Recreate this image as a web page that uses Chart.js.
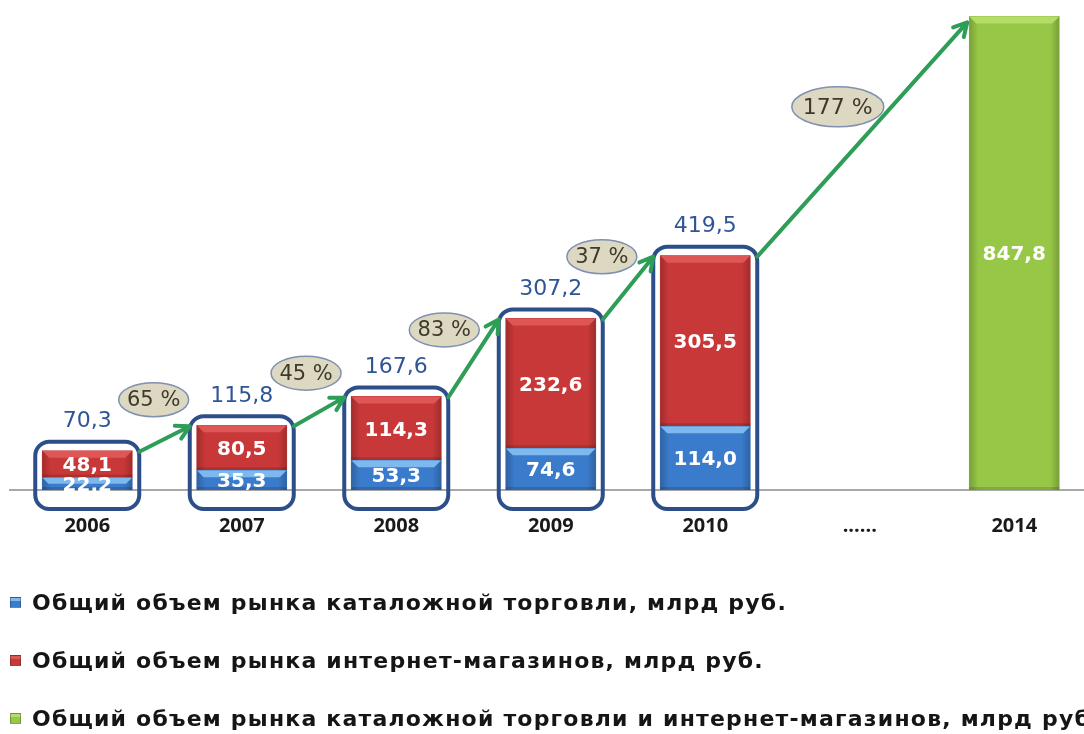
<!DOCTYPE html>
<html lang="ru">
<head>
<meta charset="utf-8">
<title>Объем рынка каталожной торговли и интернет-магазинов</title>
<script src="https://cdn.jsdelivr.net/npm/chart.js@4.4.1/dist/chart.umd.min.js"></script>
<style>
  html, body { margin: 0; padding: 0; background: #fff; overflow: hidden; }
  #wrap { position: relative; width: 1084px; height: 734px; overflow: hidden; }
  #chartBox { position: absolute; left: 0; top: 0; width: 1095px; height: 585px; }
  #legend { position: absolute; left: 10px; top: 574px; width: 1200px; font: bold 22px "DejaVu Sans", sans-serif; letter-spacing: 1.2px; color: #151515; white-space: nowrap; }
  .row { height: 58px; line-height: 58px; }
  .sw { display: inline-block; width: 11px; height: 11px; margin-right: 11px; vertical-align: middle; position: relative; top: -2px; box-sizing: border-box; border: 1px solid rgba(0,0,0,0.25); }
</style>
</head>
<body>
<div id="wrap">
  <div id="chartBox"><canvas id="chart"></canvas></div>
  <div id="legend"></div>
</div>
<script>
const years = ["2006", "2007", "2008", "2009", "2010", "......", "2014"];
const catalog = [22.2, 35.3, 53.3, 74.6, 114.0, null, null];
const internet = [48.1, 80.5, 114.3, 232.6, 305.5, null, null];
const combined = [null, null, null, null, null, null, 847.8];
const totals = [70.3, 115.8, 167.6, 307.2, 419.5];
const growth = [65, 45, 83, 37, 177];
const seriesNames = [
  "Общий объем рынка каталожной торговли, млрд руб.",
  "Общий объем рынка интернет-магазинов, млрд руб.",
  "Общий объем рынка каталожной торговли и интернет-магазинов, млрд руб."
];

const fill = ["#3b7bcb", "#c93838", "#96c746"];
const bevel = ["#7db8ee", "#df5656", "#b4dc68"];

const num = (v) => v.toFixed(1).replace(".", ",");

function shade(ctx, l, t, w, h, light) {
  ctx.save();
  const g = ctx.createLinearGradient(l, 0, l + w, 0);
  g.addColorStop(0, "rgba(0,0,0,0.2)");
  g.addColorStop(0.1, "rgba(0,0,0,0)");
  g.addColorStop(0.9, "rgba(0,0,0,0)");
  g.addColorStop(1, "rgba(0,0,0,0.2)");
  ctx.fillStyle = g;
  ctx.fillRect(l, t, w, h);
  const b = Math.min(7, h / 2);
  ctx.fillStyle = light;
  ctx.beginPath();
  ctx.moveTo(l, t);
  ctx.lineTo(l + w, t);
  ctx.lineTo(l + w - b, t + b);
  ctx.lineTo(l + b, t + b);
  ctx.closePath();
  ctx.fill();
  ctx.fillStyle = "rgba(0,0,0,0.14)";
  ctx.fillRect(l, t + h - 3, w, 3);
  ctx.restore();
}

function arrow(ctx, x1, y1, x2, y2) {
  const a = Math.atan2(y2 - y1, x2 - x1);
  const len = 15;
  ctx.beginPath();
  ctx.moveTo(x1, y1);
  ctx.lineTo(x2, y2);
  ctx.moveTo(x2 - len * Math.cos(a - 0.5), y2 - len * Math.sin(a - 0.5));
  ctx.lineTo(x2, y2);
  ctx.lineTo(x2 - len * Math.cos(a + 0.5), y2 - len * Math.sin(a + 0.5));
  ctx.stroke();
}

const overlay = {
  id: "overlay",
  afterDatasetsDraw(chart) {
    const ctx = chart.ctx;
    const metas = [0, 1, 2].map((i) => chart.getDatasetMeta(i));

    // bevel look on every bar
    metas.forEach((meta, di) => {
      meta.data.forEach((bar, i) => {
        if (chart.data.datasets[di].data[i] == null) return;
        const { x, y, base, width } = bar.getProps(["x", "y", "base", "width"], true);
        shade(ctx, x - width / 2, y, width, base - y, bevel[di]);
      });
    });

    // values inside bars
    ctx.save();
    ctx.fillStyle = "#fff";
    ctx.font = "bold 20px 'DejaVu Sans', sans-serif";
    ctx.textAlign = "center";
    ctx.textBaseline = "middle";
    metas.forEach((meta, di) => {
      meta.data.forEach((bar, i) => {
        const v = chart.data.datasets[di].data[i];
        if (v == null) return;
        const { x, y, base } = bar.getProps(["x", "y", "base"], true);
        ctx.fillText(num(v), x, (y + base) / 2 + 2);
      });
    });
    ctx.restore();

    // rounded frames and totals
    const boxes = totals.map((t, i) => {
      const blue = metas[0].data[i];
      const red = metas[1].data[i];
      const half = red.width / 2;
      return { x: red.x, l: red.x - half - 7, r: red.x + half + 7, t: red.y - 9, b: blue.base + 19 };
    });
    ctx.save();
    ctx.strokeStyle = "#2c4f8a";
    ctx.lineWidth = 4;
    boxes.forEach((b) => {
      ctx.beginPath();
      ctx.roundRect(b.l, b.t, b.r - b.l, b.b - b.t, 14);
      ctx.stroke();
    });
    ctx.fillStyle = "#2f5597";
    ctx.font = "22px 'DejaVu Sans', sans-serif";
    ctx.textAlign = "center";
    ctx.textBaseline = "middle";
    boxes.forEach((b, i) => ctx.fillText(num(totals[i]), b.x, b.t - 20));
    ctx.restore();

    // growth arrows
    const green = metas[2].data[6];
    const ends = boxes.map((b, i) => {
      const from = { x: b.r, y: b.t + 10 };
      const to = i < boxes.length - 1
        ? { x: boxes[i + 1].l, y: boxes[i + 1].t + 10 }
        : { x: green.x - green.width / 2 - 2, y: green.y + 6 };
      return [from, to];
    });
    ctx.save();
    ctx.strokeStyle = "#2e9d57";
    ctx.lineWidth = 4;
    ctx.lineCap = "round";
    ctx.lineJoin = "round";
    ends.forEach(([f, t]) => arrow(ctx, f.x, f.y, t.x, t.y));
    ctx.restore();

    // growth ellipses, set off to the upper left of each arrow
    ctx.save();
    ctx.textAlign = "center";
    ctx.textBaseline = "middle";
    ends.forEach(([f, t], i) => {
      const big = growth[i] >= 100;
      const len = Math.hypot(t.x - f.x, t.y - f.y);
      const dx = (t.x - f.x) / len, dy = (t.y - f.y) / len;
      const cx = (f.x + t.x) / 2 + dy * 40 + dx * 8;
      const cy = (f.y + t.y) / 2 - dx * 40 + dy * 8;
      ctx.beginPath();
      ctx.ellipse(cx, cy, big ? 46 : 35, big ? 20 : 17, 0, 0, Math.PI * 2);
      ctx.fillStyle = "#ddd8c2";
      ctx.fill();
      ctx.lineWidth = 1.5;
      ctx.strokeStyle = "#7f90b0";
      ctx.stroke();
      ctx.fillStyle = "#3f3a28";
      ctx.font = (big ? "22px" : "21px") + " 'DejaVu Sans', sans-serif";
      ctx.fillText(growth[i] + " %", cx, cy + 1);
    });
    ctx.restore();
  }
};

new Chart(document.getElementById("chart"), {
  type: "bar",
  data: {
    labels: years,
    datasets: [
      { label: seriesNames[0], data: catalog, backgroundColor: fill[0] },
      { label: seriesNames[1], data: internet, backgroundColor: fill[1] },
      { label: seriesNames[2], data: combined, backgroundColor: fill[2] }
    ]
  },
  options: {
    responsive: true,
    maintainAspectRatio: false,
    animation: false,
    barThickness: 90,
    layout: { padding: { top: 4, left: 10, right: 3.5, bottom: 23 } },
    plugins: { legend: { display: false }, tooltip: { enabled: false } },
    scales: {
      x: {
        stacked: true,
        grid: { display: false, drawTicks: false },
        border: { display: true, color: "#a8a8a8", width: 2 },
        ticks: { padding: 24, color: "#1a1a1a", font: { family: "'Open Sans', sans-serif", weight: "bold", size: 20 } }
      },
      y: { stacked: true, display: false, min: 0, max: 870 }
    }
  },
  plugins: [overlay]
});

const swatch = [
  "linear-gradient(#7db8ee 0 30%, #3b7bcb 30%)",
  "linear-gradient(#df5656 0 30%, #c93838 30%)",
  "linear-gradient(#b4dc68 0 30%, #96c746 30%)"
];
document.getElementById("legend").innerHTML = seriesNames
  .map((name, i) => `<div class="row"><span class="sw" style="background:${swatch[i]}"></span>${name}</div>`)
  .join("");
</script>
</body>
</html>
